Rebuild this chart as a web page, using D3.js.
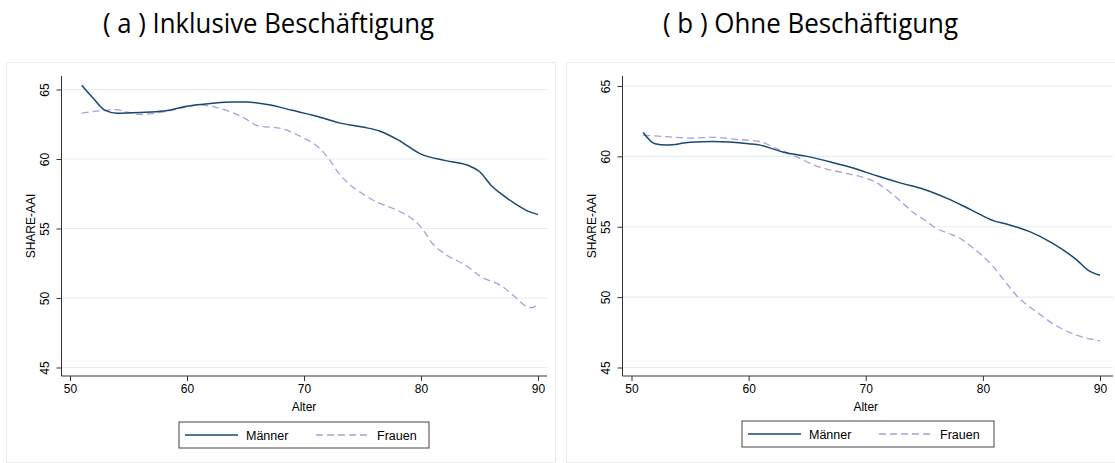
<!DOCTYPE html>
<html>
<head>
  <meta charset="UTF-8">
  <title>SHARE-AAI nach Alter</title>
  <script src="https://d3js.org/d3.v7.min.js"></script>
  <style>
    body { margin: 0; background: #fff; }
    .title { font-family: "Open Sans", sans-serif; font-size: 27px; fill: #000; }
    .tick text { font-family: "Liberation Sans", Arial, sans-serif; font-size: 12px; fill: #000; }
    .lbl { font-family: "Liberation Sans", Arial, sans-serif; font-size: 12px; fill: #000; }
    .leg { font-family: "Liberation Sans", Arial, sans-serif; font-size: 12.5px; fill: #000; }
  </style>
</head>
<body>

<div class="chart"></div>

<script>
  // Panel (a): Inklusive Beschäftigung
  var ageMa = [51, 52, 53, 54, 56, 58, 60, 62, 64, 65, 67, 69, 71, 73, 75, 76.5, 78, 80, 82, 84, 85, 86, 87, 88, 89, 90];
  var valMa = [65.3, 64.35, 63.5, 63.3, 63.35, 63.45, 63.8, 64.0, 64.1, 64.1, 63.9, 63.5, 63.1, 62.6, 62.3, 62.0, 61.4, 60.35, 59.9, 59.55, 59.1, 58.1, 57.4, 56.8, 56.3, 56.0];
  var ageFa = [51, 53, 54, 55, 56, 58, 60, 61, 62, 64, 65, 66, 68, 70, 71, 72, 73, 74, 75, 76, 78, 79, 80, 81, 82, 84, 85, 87, 88, 89, 89.5, 90];
  var valFa = [63.3, 63.5, 63.55, 63.35, 63.2, 63.4, 63.75, 63.9, 63.8, 63.3, 62.9, 62.4, 62.2, 61.5, 61.0, 60.15, 58.95, 58.1, 57.5, 57.0, 56.3, 55.85, 55.1, 53.9, 53.2, 52.25, 51.6, 50.8, 50.1, 49.4, 49.3, 49.6];

  // Panel (b): Ohne Beschäftigung
  var ageMb = [51, 52, 53, 55, 57, 60, 61, 62, 63, 65, 67, 69, 71, 73, 75, 77, 79, 81, 82, 83, 84, 86, 88, 89, 90];
  var valMb = [61.7, 60.9, 60.8, 61.0, 61.05, 60.9, 60.8, 60.55, 60.3, 60.0, 59.6, 59.15, 58.6, 58.1, 57.65, 57.0, 56.2, 55.4, 55.2, 54.95, 54.65, 53.8, 52.65, 51.9, 51.55];
  var ageFb = [51, 53, 55, 57, 59, 60, 61, 62, 64, 66, 68, 70, 71, 72, 73, 74, 75, 76, 77, 78, 79, 80, 81, 82, 83, 84, 85, 86, 87, 88, 89, 90];
  var valFb = [61.5, 61.4, 61.3, 61.35, 61.2, 61.15, 61.05, 60.7, 60.0, 59.25, 58.85, 58.45, 58.1, 57.5, 56.8, 56.05, 55.5, 54.9, 54.55, 54.2, 53.6, 52.9, 52.05, 51.0, 50.0, 49.3, 48.7, 48.1, 47.65, 47.3, 47.05, 46.9];

  var xTicks = [50, 60, 70, 80, 90];
  var yTicks = [45, 50, 55, 60, 65];
  var seriesNames = ['Männer', 'Frauen'];
  var titles = ['( a ) Inklusive Beschäftigung', '( b ) Ohne Beschäftigung'];

  var colMen = '#1a476f';
  var colWomen = '#a99ee0';

  var svg = d3.select('.chart')
    .append('svg')
      .attr('width', 1115)
      .attr('height', 463);

  var panels = [
    { title: titles[0], tx: 103, tw: 331, frame: [6, 62, 549, 400], axisX: 61.5, x0: 70, x1: 538, y65: 89.5, y45: 367.5, right: 547, top: 76, bottom: 376,
      legend: [179, 422, 250, 26], men: [ageMa, valMa], women: [ageFa, valFa] },
    { title: titles[1], tx: 663, tw: 295, frame: [566, 62, 549, 400], axisX: 622.5, x0: 631.5, x1: 1100, y65: 86, y45: 367.5, right: 1113, top: 76, bottom: 376,
      legend: [742, 421, 252, 26], men: [ageMb, valMb], women: [ageFb, valFb] }
  ];

  panels.forEach(function(p) {
    svg.append('text').attr('class', 'title')
      .attr('x', p.tx).attr('y', 33)
      .attr('textLength', p.tw).attr('lengthAdjust', 'spacingAndGlyphs')
      .text(p.title);

    svg.append('rect')
      .attr('x', p.frame[0] + 0.5).attr('y', p.frame[1] + 0.5)
      .attr('width', p.frame[2]).attr('height', p.frame[3])
      .attr('fill', '#fff').attr('stroke', '#e6eef0');

    var xScale = d3.scaleLinear().domain([50, 90]).range([p.x0, p.x1]);
    var yScale = d3.scaleLinear().domain([45, 65]).range([p.y45, p.y65]);

    // grid lines
    svg.append('g')
      .selectAll('line')
      .data(yTicks)
      .enter()
      .append('line')
        .attr('x1', p.axisX).attr('x2', p.right)
        .attr('y1', d => yScale(d)).attr('y2', d => yScale(d))
        .attr('stroke', '#e3eef0').attr('stroke-width', 1.2);

    // Y-axis
    var yAxis = d3.axisLeft(yScale).tickValues(yTicks).tickSize(5).tickPadding(4);
    var gy = svg.append('g')
      .attr('transform', 'translate(' + p.axisX + ',0)')
      .call(yAxis);
    gy.select('.domain').attr('d', 'M0,' + p.top + 'V' + p.bottom).attr('stroke', '#333');
    gy.selectAll('.tick line').attr('stroke', '#333');
    gy.selectAll('.tick text')
      .attr('x', 0).attr('dy', 0)
      .attr('transform', 'translate(-13,0) rotate(-90)')
      .style('text-anchor', 'middle');

    // X-axis
    var xAxis = d3.axisBottom(xScale).tickValues(xTicks).tickSize(5).tickPadding(3);
    var gx = svg.append('g')
      .attr('transform', 'translate(0,' + p.bottom + ')')
      .call(xAxis);
    gx.select('.domain').attr('d', 'M' + p.axisX + ',0H' + p.right).attr('stroke', '#333');
    gx.selectAll('.tick line').attr('stroke', '#333');

    svg.append('text').attr('class', 'lbl')
      .attr('x', (p.x0 + p.x1) / 2).attr('y', p.bottom + 35)
      .attr('text-anchor', 'middle').text('Alter');

    svg.append('text').attr('class', 'lbl')
      .attr('transform', 'translate(' + (p.axisX - 27) + ',' + ((p.top + p.bottom) / 2) + ') rotate(-90)')
      .attr('text-anchor', 'middle').text('SHARE-AAI');

    var line = d3.line()
      .x(d => xScale(d[0]))
      .y(d => yScale(d[1]))
      .curve(d3.curveMonotoneX);

    svg.append('path')
      .datum(d3.zip(p.women[0], p.women[1]))
      .attr('d', line)
      .attr('fill', 'none').attr('stroke', colWomen)
      .attr('stroke-width', 1.3).attr('stroke-dasharray', '7,4');

    svg.append('path')
      .datum(d3.zip(p.men[0], p.men[1]))
      .attr('d', line)
      .attr('fill', 'none').attr('stroke', colMen)
      .attr('stroke-width', 1.5);

    // legend
    var L = p.legend;
    var lg = svg.append('g').attr('transform', 'translate(' + L[0] + ',' + L[1] + ')');
    lg.append('rect').attr('width', L[2]).attr('height', L[3])
      .attr('fill', '#fff').attr('stroke', '#444').attr('stroke-width', 1);
    lg.append('line').attr('x1', 6).attr('x2', 59).attr('y1', 13).attr('y2', 13)
      .attr('stroke', colMen).attr('stroke-width', 1.4);
    lg.append('text').attr('class', 'leg').attr('x', 67).attr('y', 17.5).text(seriesNames[0]);
    lg.append('line').attr('x1', 137).attr('x2', 189).attr('y1', 13).attr('y2', 13)
      .attr('stroke', colWomen).attr('stroke-width', 1.3).attr('stroke-dasharray', '7,4');
    lg.append('text').attr('class', 'leg').attr('x', 198).attr('y', 17.5).text(seriesNames[1]);
  });
</script>

</body>
</html>
